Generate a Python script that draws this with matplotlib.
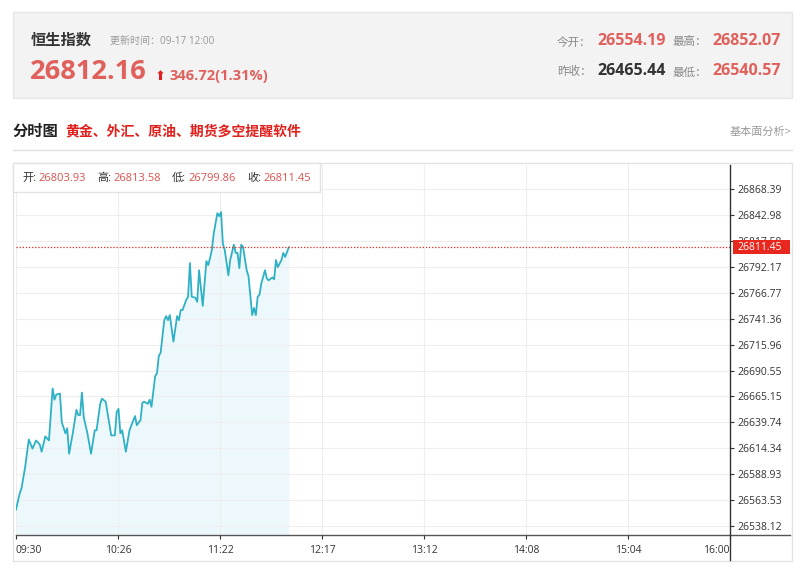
import matplotlib
matplotlib.use('Agg')
import matplotlib.pyplot as plt
from matplotlib.patches import Rectangle
from matplotlib.lines import Line2D
import matplotlib.transforms as mtransforms

plt.rcParams['font.family'] = ['Open Sans', 'Noto Sans CJK SC', 'DejaVu Sans']

# ---------------- data ----------------
index_name = "恒生指数"
update_time = "更新时间：09-17 12:00"
last_price = 26812.16
change_text = "346.72(1.31%)"
open_price = 26554.19
high_price = 26852.07
prev_close = 26465.44
low_price = 26540.57
title_main = "分时图"
title_ad = "黄金、外汇、原油、期货多空提醒软件"
link_text = "基本面分析>"
bar_labels = ["开", "高", "低", "收"]
bar_values = [26803.93, 26813.58, 26799.86, 26811.45]

minutes = [0, 2, 3, 5, 7, 9, 11, 13, 14, 16, 18, 20, 21, 22, 24, 25, 27, 28, 29, 31,
           33, 34, 35, 36, 37, 39, 41, 43, 44, 46, 47, 49, 50, 52, 54, 55, 56, 57, 58, 60,
           62, 65, 66, 68, 69, 70, 72, 73, 74, 76, 77, 78, 79, 80, 81, 82, 83, 84, 86, 88,
           89, 90, 91, 93, 94, 95, 96, 98, 99, 100, 102, 104, 105, 106, 107, 108, 110, 111, 112, 113,
           114, 116, 117, 119, 120, 121, 122, 123, 124, 126, 127, 129, 130, 131, 132, 133, 134, 136, 137, 138,
           140, 141, 142, 143, 145, 146, 147, 149]
prices = [26554.19, 26570, 26575, 26596, 26623, 26614, 26622, 26618, 26611, 26626,
          26622, 26673, 26662, 26667, 26668, 26640, 26629, 26634, 26609, 26629,
          26652, 26647, 26647, 26669, 26645, 26629, 26609, 26632, 26632, 26658,
          26663, 26660, 26649, 26627, 26627, 26650, 26653, 26629, 26632, 26611,
          26632, 26646, 26637, 26642, 26659, 26660, 26658, 26662, 26655, 26685,
          26688, 26705, 26708, 26724, 26740, 26744, 26740, 26745, 26719, 26744,
          26740, 26750, 26750, 26760, 26763, 26796, 26763, 26762, 26758, 26789,
          26754, 26798, 26794, 26801, 26809, 26825, 26845, 26842, 26846, 26815,
          26809, 26784, 26799, 26814, 26806, 26806, 26791, 26814, 26812, 26789,
          26783, 26745, 26752, 26745, 26763, 26765, 26776, 26789, 26781, 26779,
          26782, 26780, 26799, 26792, 26799, 26806, 26802, 26811.45]

session_minutes = 390
x_tick_labels = ["09:30", "10:26", "11:22", "12:17", "13:12", "14:08", "15:04", "16:00"]
y_ticks = [26538.12, 26563.53, 26588.93, 26614.34, 26639.74, 26665.15, 26690.55,
           26715.96, 26741.36, 26766.77, 26792.17, 26817.58, 26842.98, 26868.39]
y_limits = (26529.3, 26892.2)

# ---------------- figure ----------------
W, H = 800, 578
fig = plt.figure(figsize=(W / 100, H / 100), dpi=100)
fig.patch.set_facecolor('white')


def fx(x):
    return x / W


def fy(y):
    return 1 - y / H


def T(x, y, s, **kw):
    kw.setdefault('va', 'center')
    kw.setdefault('ha', 'left')
    return fig.text(fx(x), fy(y), s, **kw)


RED = '#e0605c'
GRAY = '#999999'
DARK = '#333333'

# header box
fig.patches.append(Rectangle((fx(13), fy(98)), fx(792) - fx(13), fy(12) - fy(98),
                             transform=fig.transFigure, facecolor='#f3f3f3',
                             edgecolor='#e6e6e6', lw=1, zorder=0))
T(31, 40, index_name, size=11, weight='bold', color=DARK)
T(110, 41, update_time, size=7.2, color=GRAY)
T(30, 72, f"{last_price:.2f}", size=19.6, weight='bold', color=RED)
T(155, 76, "⬆", size=9.5, color='#e02020', family=['DejaVu Sans'])
T(169, 76, change_text, size=10.5, weight='bold', color=RED)

T(557, 42, "今开：", size=8.3, color='#888888')
T(597, 41, f"{open_price:.2f}", size=11.5, weight='bold', color=RED)
T(672, 42, "最高：", size=8.3, color='#888888')
T(712, 41, f"{high_price:.2f}", size=11.5, weight='bold', color=RED)
T(557, 72, "昨收：", size=8.3, color='#888888')
T(597, 71, f"{prev_close:.2f}", size=11.5, weight='bold', color=DARK)
T(672, 72, "最低：", size=8.3, color='#888888')
T(712, 71, f"{low_price:.2f}", size=11.5, weight='bold', color=RED)

# title row
T(13, 132, title_main, size=11, weight='bold', color='#222222')
T(65, 131, title_ad, size=10, weight='bold', color='#e0201c')
T(792, 132, link_text, size=8, color=GRAY, ha='right')
fig.lines.append(Line2D([fx(13), fx(792)], [fy(150), fy(150)], transform=fig.transFigure,
                        color='#e0e0e0', lw=1))

# chart frame
fig.patches.append(Rectangle((fx(13), fy(561)), fx(792) - fx(13), fy(163) - fy(561),
                             transform=fig.transFigure, facecolor='none',
                             edgecolor='#e3e3e3', lw=1, zorder=0.5))

# axes
ax = fig.add_axes([fx(16), fy(535), fx(730) - fx(16), fy(165) - fy(535)])
ax.set_facecolor('white')
ax.set_xlim(0, session_minutes)
ax.set_ylim(*y_limits)

ax.fill_between(minutes, prices, y_limits[0], color='#edf8fc', lw=0, zorder=1)
ax.plot(minutes, prices, color='#2fb1c5', lw=1.3, zorder=3)
ax.axhline(prices[-1], color='#e8281e', lw=0.9, ls=(0, (1, 1.5)), zorder=4)

step = session_minutes / (len(x_tick_labels) - 1)
xt = [i * step for i in range(len(x_tick_labels))]
ax.set_xticks(xt)
ax.set_xticklabels(x_tick_labels)
ax.set_yticks(y_ticks)
ax.set_yticklabels([f"{v:.2f}" for v in y_ticks])
ax.yaxis.tick_right()
ax.tick_params(axis='y', direction='out', length=3, pad=2, labelsize=7.5,
               colors=DARK, width=0.8)
ax.tick_params(axis='x', direction='out', length=3, pad=4, labelsize=7.5,
               colors=DARK, width=0.8)
labels = ax.get_xticklabels()
labels[0].set_ha('left')
labels[-1].set_ha('right')
ax.grid(True, color='#eeeeee', lw=0.8)
for s in ax.spines.values():
    s.set_visible(False)

# axis lines (bottom extends to frame, right extends below)
fig.lines.append(Line2D([fx(16), fx(790)], [fy(535), fy(535)], transform=fig.transFigure,
                        color='#555555', lw=1, zorder=5))
fig.lines.append(Line2D([fx(730), fx(730)], [fy(165), fy(560)], transform=fig.transFigure,
                        color='#333333', lw=1, zorder=5))

# last price label on right axis
blend = mtransforms.blended_transform_factory(fig.transFigure, ax.transData)
px_to_data = (y_limits[1] - y_limits[0]) / (fy(165) - fy(535)) / H
box_h = 14 * px_to_data
fig.patches.append(Rectangle((fx(733), prices[-1] - box_h / 2), fx(790) - fx(733), box_h,
                             transform=blend, facecolor='#e8281e', edgecolor='none', zorder=6))
fig.text(fx(737), prices[-1], f"{prices[-1]:.2f}", transform=blend, color='white',
         size=7.5, va='center', ha='left', zorder=7)

# OHLC info box
fig.patches.append(Rectangle((fx(13), fy(192)), fx(320) - fx(13), fy(163) - fy(192),
                             transform=fig.transFigure, facecolor='white',
                             edgecolor='#e3e3e3', lw=1, zorder=6))
for i, (lab, val) in enumerate(zip(bar_labels, bar_values)):
    x0 = 22 + i * 75
    T(x0, 178, lab + ":", size=8, color=DARK, zorder=7)
    T(x0 + 16, 178, f"{val:.2f}", size=8, color='#d9534f', zorder=7)

fig.savefig('out.png', dpi=100, facecolor='white')
